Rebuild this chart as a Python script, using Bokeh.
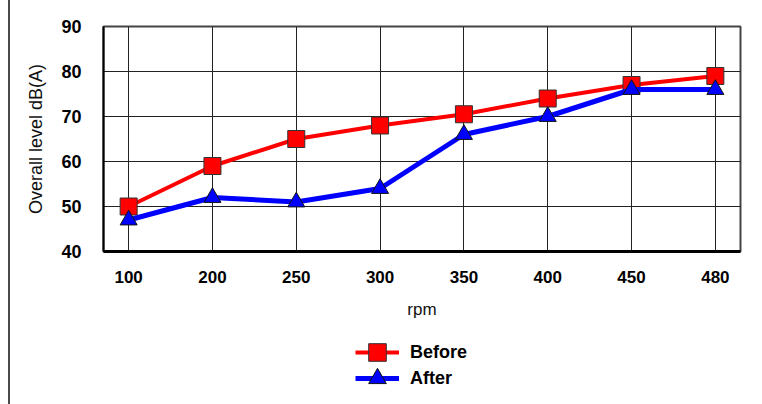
from bokeh.plotting import figure
from bokeh.layouts import column
from bokeh.models import (Range1d, FixedTicker, Legend, LegendItem)
from bokeh.embed import file_html
from bokeh.resources import INLINE

rpm_labels = ["100", "200", "250", "300", "350", "400", "450", "480"]
before = [50, 59, 65, 68, 70.5, 74, 77, 79]
after = [47, 52, 51, 54, 66, 70, 76, 76]
y_ticks = [40, 50, 60, 70, 80, 90]

xs = list(range(len(rpm_labels)))
RED, BLUE = "#ff0000", "#0000ff"

p = figure(frame_width=637, frame_height=225, output_backend="svg", toolbar_location=None,
           x_range=Range1d(-0.3, len(rpm_labels) - 0.7), y_range=Range1d(40, 90),
           min_border_left=93, min_border_right=7, min_border_top=26, min_border_bottom=80)

p.background_fill_color = "white"
p.border_fill_color = "white"
p.outline_line_color = "#444444"
p.outline_line_width = 2

# axes
p.xaxis.ticker = FixedTicker(ticks=xs)
p.xaxis.major_label_overrides = {i: s for i, s in zip(xs, rpm_labels)}
p.yaxis.ticker = FixedTicker(ticks=y_ticks)
for ax in (p.xaxis[0], p.yaxis[0]):
    ax.major_tick_line_color = None
    ax.minor_tick_line_color = None
    ax.axis_line_color = "black"
    ax.major_label_text_color = "black"
    ax.major_label_text_font_style = "bold"
    ax.axis_label_text_color = "#111111"
    ax.axis_label_text_font_style = "normal"
p.xaxis.axis_line_width = 3
p.yaxis.axis_line_width = 2
p.xaxis.major_label_text_font = "Liberation Sans"
p.xaxis.major_label_text_font_size = "17px"
p.xaxis.major_label_standoff = 13
p.xaxis.axis_label = "rpm"
p.xaxis.axis_label_text_font = "Liberation Sans"
p.xaxis.axis_label_text_font_size = "17px"
p.xaxis.axis_label_standoff = 14
p.yaxis.major_label_text_font = "Liberation Sans"
p.yaxis.major_label_text_font_size = "18px"
p.yaxis.major_label_standoff = 16
p.yaxis.axis_label = "Overall level dB(A)"
p.yaxis.axis_label_text_font = "Liberation Sans"
p.yaxis.axis_label_text_font_size = "18px"
p.yaxis.axis_label_standoff = 12

p.xgrid.ticker = FixedTicker(ticks=xs)
p.xgrid.grid_line_color = "#222222"
p.xgrid.grid_line_width = 1
p.ygrid.ticker = FixedTicker(ticks=y_ticks)
p.ygrid.grid_line_color = "#222222"
p.ygrid.grid_line_width = 1

def draw(fig):
    l1 = fig.line(xs, before, line_color=RED, line_width=4)
    s1 = fig.scatter(xs, before, marker="square", size=17, fill_color=RED,
                     line_color="#333333", line_width=1)
    l2 = fig.line(xs, after, line_color=BLUE, line_width=5)
    s2 = fig.scatter(xs, after, marker="triangle", size=17, fill_color=BLUE,
                     line_color="#111111", line_width=1)
    return l1, s1, l2, s2

draw(p)

# legend strip below the chart (same series, drawn outside its visible range)
leg = figure(width=737, height=73, output_backend="svg", toolbar_location=None,
             x_range=p.x_range, y_range=Range1d(0, 1),
             min_border_left=0, min_border_right=0, min_border_top=0, min_border_bottom=0)
leg.axis.visible = False
leg.grid.visible = False
leg.outline_line_color = None
leg.background_fill_color = "white"
leg.border_fill_color = "white"
r1, q1, r2, q2 = draw(leg)

def make_legend(label, rends, loc):
    lg = Legend(items=[LegendItem(label=label, renderers=list(rends))], location=loc)
    lg.border_line_color = None
    lg.background_fill_alpha = 0
    lg.label_text_font = "Liberation Sans"
    lg.label_text_font_style = "bold"
    lg.label_text_font_size = "18px"
    lg.label_text_color = "black"
    lg.glyph_width = 44
    lg.glyph_height = 44
    lg.label_standoff = 11
    lg.padding = 0
    lg.margin = 0
    return lg

leg.add_layout(make_legend("Before", (r1, q1), (252, 30)), "center")
leg.add_layout(make_legend("After", (r2, q2), (252, 4)), "center")

layout = column(p, leg, spacing=0)
layout.styles = {"border-left": "2px solid #4a4a4a", "margin-left": "8px"}

open("out.html", "w").write(file_html(layout, INLINE))
